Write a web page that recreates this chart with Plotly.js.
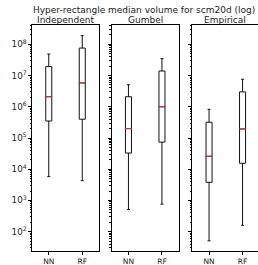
<!DOCTYPE html>
<html><head><meta charset="utf-8">
<script src="https://cdn.plot.ly/plotly-3.0.1.min.js"></script>
<style>html,body{margin:0;padding:0;background:#fff}#c{width:258px;height:265px}</style>
</head><body><div id="c"></div>
<script>
const methods = ['Independent', 'Gumbel', 'Empirical'];
const models = ['NN', 'RF'];
// per method, values for [NN, RF]
const upperWhisker = [[4.9e7, 1.9e8], [5.1e6, 3.5e7], [8.3e5, 7.6e6]];
const q3 = [[1.95e7, 7.6e7], [2.1e6, 1.4e7], [3.2e5, 3.0e6]];
const medians = [[2.1e6, 5.8e6], [2.0e5, 1.0e6], [2.6e4, 1.95e5]];
const q1 = [[3.5e5, 4.0e5], [3.3e4, 7.4e4], [3.8e3, 1.55e4]];
const lowerWhisker = [[5.8e3, 4.3e3], [5.1e2, 7.6e2], [51, 1.6e2]];
const titleText = 'Hyper-rectangle median volume for scm20d (log)';

const W = 258, H = 265;
const panelsPx = [[32, 99.3], [111.7, 179.3], [192.3, 258]];
const pxPerUnit = 33.5;
const font = 'DejaVu Sans, sans-serif';
const traces = [];
const layout = {
  width: W, height: H, margin: {l: 0, r: 0, t: 0, b: 0},
  paper_bgcolor: '#fff', plot_bgcolor: '#fff', showlegend: false,
  font: {family: font, color: '#000', size: 8},
  annotations: [{text: titleText, x: 143.5 / W, y: 1 - 10 / H, xref: 'paper', yref: 'paper',
    showarrow: false, xanchor: 'center', yanchor: 'middle', font: {size: 9, family: font, color: '#222'}}]
};
methods.forEach((m, i) => {
  const ax = i === 0 ? '' : String(i + 1);
  const [x0, x1] = panelsPx[i];
  traces.push({
    type: 'box', xaxis: 'x' + ax, yaxis: 'y' + ax,
    x: models, q1: q1[i], median: medians[i], q3: q3[i],
    lowerfence: lowerWhisker[i], upperfence: upperWhisker[i],
    width: 0.18, whiskerwidth: 0.5, boxpoints: false,
    line: {color: '#111', width: 1}, fillcolor: '#fff', hoverinfo: 'skip'
  });
  traces.push({
    type: 'scatter', mode: 'markers', xaxis: 'x' + ax, yaxis: 'y' + ax,
    x: models, y: medians[i],
    marker: {symbol: 'line-ew', size: 5, line: {color: '#e0302a', width: 1}}, hoverinfo: 'skip'
  });
  layout['xaxis' + ax] = {
    domain: [x0 / W, x1 / W], anchor: 'y' + ax, type: 'category',
    range: [-0.5, -0.5 + (x1 - x0) / pxPerUnit],
    showline: true, mirror: true, linecolor: '#000', linewidth: 1,
    ticks: 'outside', ticklen: 3, tickcolor: '#000', showgrid: false, zeroline: false,
    tickfont: {size: 7.5, family: font, color: '#222'}, fixedrange: true
  };
  layout['yaxis' + ax] = {
    domain: [1 - 251 / H, 1 - 25 / H], anchor: 'x' + ax, type: 'log',
    range: [1.38, 8.62], dtick: 1, exponentformat: 'power',
    showticklabels: i === 0,
    showline: true, mirror: true, linecolor: '#000', linewidth: 1,
    ticks: 'outside', ticklen: 3, tickcolor: '#000', showgrid: false, zeroline: false,
    minor: {ticks: 'outside', ticklen: 1.5, tickcolor: '#000', dtick: 'D1', showgrid: false},
    tickfont: {size: 7, family: font, color: '#222'}, fixedrange: true
  };
  layout.annotations.push({text: m, x: (x0 + x1) / 2 / W, y: 1 - 20 / H, xref: 'paper', yref: 'paper',
    showarrow: false, xanchor: 'center', yanchor: 'middle', font: {size: 9, family: font, color: '#222'}});
});
Plotly.newPlot('c', traces, layout, {staticPlot: true});
</script></body></html>
